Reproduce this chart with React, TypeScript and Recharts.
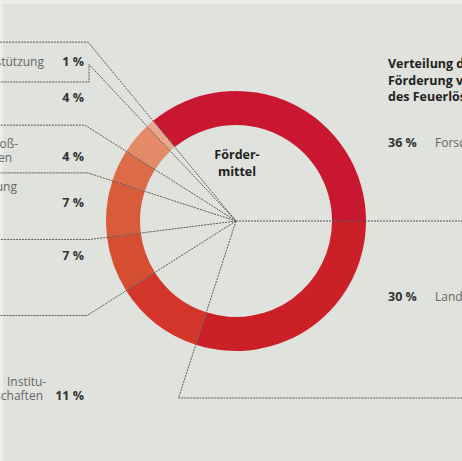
import React from 'react';
import { PieChart, Pie, Cell } from 'recharts';

// ---- data ----
const categories = [
  'Forschung',
  'Landkreise',
  'Institutionen und Körperschaften',
  'Sonstige Förderung',
  'Ausbildung',
  'Großveranstaltungen',
  'Ausstattung',
  'Unterstützung',
];
const shares = [36, 30, 11, 7, 7, 4, 4, 1];
const pctLabels = ['36 %', '30 %', '11 %', '7 %', '7 %', '4 %', '4 %', '1 %'];
const titleLines = ['Verteilung der', 'Förderung von', 'des Feuerlöschwesens'];
const centerLines = ['Förder-', 'mittel'];

// ---- styles / layout (kept separate from data) ----
const colors = ['#c8172e', '#cc2029', '#d3352a', '#d54e32', '#d95c3a', '#de6b47', '#e48a69', '#e9a78b'];
const W = 462;
const H = 461;
const CX = 236;
const CY = 221;
const FONT = '"Open Sans", "Noto Sans", sans-serif';

type Guide =
  | { kind: 'left'; x: number; drop?: number }
  | { kind: 'right' }
  | { kind: 'bottom'; y: number };

const guides: Guide[] = [
  { kind: 'left', x: 88 },
  { kind: 'right' },
  { kind: 'bottom', y: 398 },
  { kind: 'left', x: 87 },
  { kind: 'left', x: 90 },
  { kind: 'left', x: 88 },
  { kind: 'left', x: 85 },
  { kind: 'left', x: 89, drop: 82 },
];

type TextLine = { text: string; x: number; y: number; anchor: 'start' | 'end' };
const nameLayout: TextLine[][] = [
  [{ text: 'Forschung', x: 435, y: 147, anchor: 'start' }],
  [{ text: 'Landkreise', x: 435, y: 301, anchor: 'start' }],
  [
    { text: 'Institu-', x: 7, y: 386, anchor: 'start' },
    { text: 'Körperschaften', x: 43, y: 400, anchor: 'end' },
  ],
  [],
  [{ text: 'Ausbildung', x: 17, y: 191, anchor: 'end' }],
  [
    { text: 'Groß-', x: 18, y: 148, anchor: 'end' },
    { text: 'veranstaltungen', x: 12, y: 162, anchor: 'end' },
  ],
  [],
  [{ text: 'Unterstützung', x: 44, y: 66, anchor: 'end' }],
];
const pctLayout: TextLine[] = [
  { text: '', x: 388, y: 147, anchor: 'start' },
  { text: '', x: 388, y: 301, anchor: 'start' },
  { text: '', x: 84, y: 400, anchor: 'end' },
  { text: '', x: 84, y: 260, anchor: 'end' },
  { text: '', x: 84, y: 207, anchor: 'end' },
  { text: '', x: 84, y: 161, anchor: 'end' },
  { text: '', x: 84, y: 102, anchor: 'end' },
  { text: '', x: 84, y: 66, anchor: 'end' },
];

const tableData = categories.map((name, i) => ({ name, value: shares[i], pct: pctLabels[i] }));

const START = 129.6;
const END = START - 360;

const renderLabel = (p: any) => {
  const index: number = p.index;
  const cx: number = p.cx ?? CX;
  const cy: number = p.cy ?? CY;
  let startAngle: number = p.startAngle;
  if (typeof startAngle !== 'number') {
    const before = shares.slice(0, index).reduce((a, b) => a + b, 0);
    startAngle = START - (before / 100) * 360;
  }
  const rad = (startAngle * Math.PI) / 180;
  const dx = Math.cos(rad);
  const dy = -Math.sin(rad);
  const g = guides[index];
  let pts: [number, number][] = [[cx, cy]];
  if (g.kind === 'left') {
    const t = (g.x - cx) / dx;
    const ey = cy + t * dy;
    pts.push([g.x, ey]);
    if (g.drop !== undefined) {
      pts.push([g.x, g.drop]);
      pts.push([0, g.drop]);
    } else {
      pts.push([0, ey]);
    }
  } else if (g.kind === 'right') {
    const t = (W - cx) / dx;
    pts.push([W, cy + t * dy]);
  } else {
    const t = (g.y - cy) / dy;
    pts.push([cx + t * dx, g.y]);
    pts.push([W, g.y]);
  }
  const pl = pctLayout[index];
  return (
    <g key={`lbl-${index}`}>
      <polyline
        points={pts.map((q) => q.join(',')).join(' ')}
        fill="none"
        stroke="#5a5a5a"
        strokeWidth={1}
        strokeDasharray="2 1"
      />
      {nameLayout[index].map((l, j) => (
        <text
          key={j}
          x={l.x}
          y={l.y}
          textAnchor={l.anchor}
          fontFamily={FONT}
          fontSize={12}
          fill="#666"
        >
          {l.text}
        </text>
      ))}
      <text
        x={pl.x}
        y={pl.y}
        textAnchor={pl.anchor}
        fontFamily={FONT}
        fontSize={12.5}
        fontWeight={700}
        fill="#333"
      >
        {tableData[index].pct}
      </text>
    </g>
  );
};

export default function App() {
  return (
    <div
      style={{
        position: 'fixed',
        left: 0,
        top: 0,
        width: W,
        height: H,
        background: '#dfe2dd',
        overflow: 'hidden',
      }}
    >
      <div style={{ position: 'absolute', left: 0, top: 0, width: W, height: 4, background: '#eceeea' }} />
      <div style={{ position: 'absolute', left: 0, top: 0, width: 3, height: H, background: '#eceeea' }} />
      <div style={{ position: 'absolute', left: 0, top: 0 }}>
        <PieChart width={W} height={H} margin={{ top: 0, right: 0, bottom: 0, left: 0 }}>
          <Pie
            data={tableData}
            dataKey="value"
            nameKey="name"
            cx={CX}
            cy={CY}
            innerRadius={96}
            outerRadius={130}
            startAngle={START}
            endAngle={END}
            stroke="none"
            labelLine={false}
            label={renderLabel}
            isAnimationActive={false}
          >
            {tableData.map((d, i) => (
              <Cell key={d.name} fill={colors[i]} />
            ))}
          </Pie>
        </PieChart>
      </div>
      <svg
        width={W}
        height={H}
        style={{ position: 'absolute', left: 0, top: 0, pointerEvents: 'none' }}
      >
        {titleLines.map((t, i) => (
          <text
            key={t}
            x={388}
            y={68 + i * 16.5}
            fontFamily={FONT}
            fontSize={12.5}
            fontWeight={700}
            fill="#222"
          >
            {t}
          </text>
        ))}
        {centerLines.map((t, i) => (
          <text
            key={t}
            x={237}
            y={159 + i * 17}
            textAnchor="middle"
            fontFamily={FONT}
            fontSize={12.5}
            fontWeight={700}
            fill="#222"
          >
            {t}
          </text>
        ))}
      </svg>
    </div>
  );
}
